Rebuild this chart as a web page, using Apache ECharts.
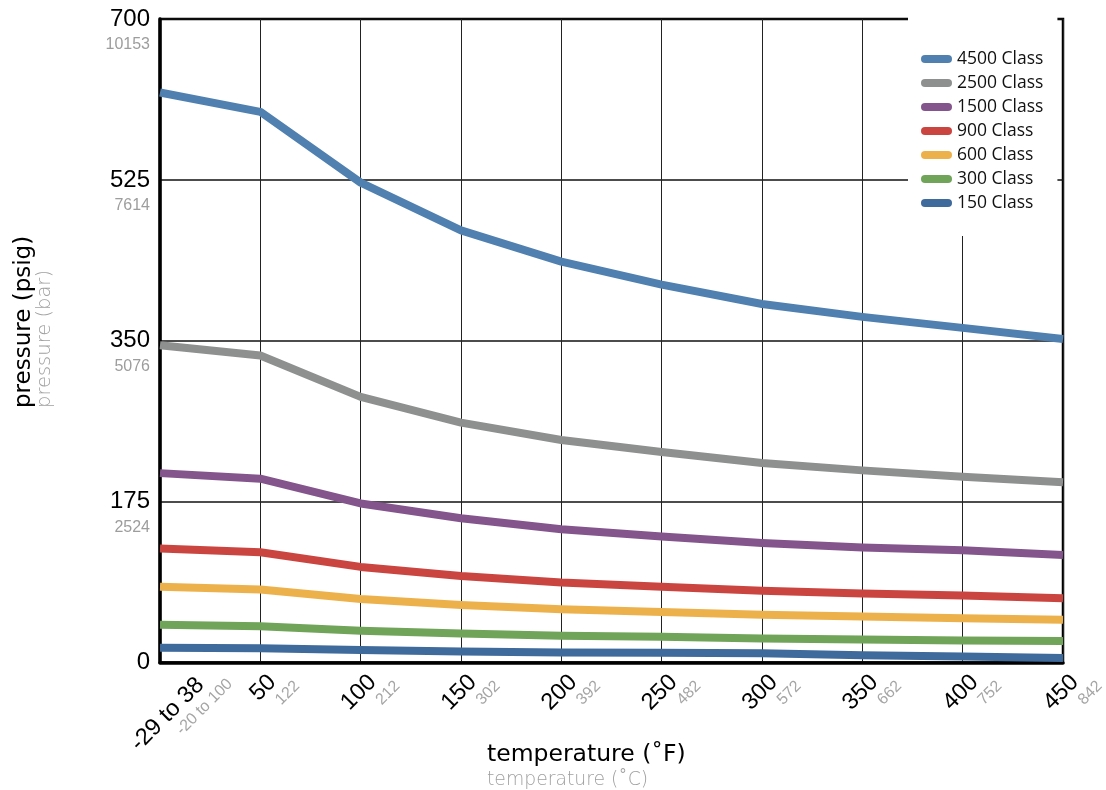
<!DOCTYPE html>
<html>
<head>
<meta charset="utf-8">
<script src="https://cdn.jsdelivr.net/npm/echarts@6/dist/echarts.min.js"></script>
<style>
html,body{margin:0;padding:0;background:#fff;}
#chart{width:1106px;height:790px;}
</style>
</head>
<body>
<div id="chart"></div>
<script>
// ---- data ----
const categories = ['-29 to 38', '50', '100', '150', '200', '250', '300', '350', '400', '450'];
const categoriesAlt = ['-20 to 100', '122', '212', '302', '392', '482', '572', '662', '752', '842'];
const yTicks = [0, 175, 350, 525, 700];
const yTicksAlt = ['', '2524', '5076', '7614', '10153'];
const seriesNames = ['4500 Class', '2500 Class', '1500 Class', '900 Class', '600 Class', '300 Class', '150 Class'];
const class4500 = [620, 599, 522, 470, 436, 411, 390, 376, 364, 352];
const class2500 = [345, 334, 289, 261, 242, 229, 217, 209, 202, 196];
const class1500 = [206, 200, 173, 157, 145, 137, 130, 125, 122, 117];
const class900 = [124, 120, 104, 94, 87, 82.5, 78, 75, 73, 70];
const class600 = [82.5, 79.5, 69, 62.5, 58, 55, 52, 50, 48, 46.5];
const class300 = [41, 39.5, 34.5, 31.5, 29, 28, 26, 25, 24, 23.5];
const class150 = [16, 15.5, 13.5, 12, 11, 10.5, 10, 8, 6.5, 5];
const seriesValues = [class4500, class2500, class1500, class900, class600, class300, class150];
const seriesColors = ['#5080b0', '#8e908f', '#84558c', '#cb4540', '#edb14c', '#6fa459', '#3e6a9c'];

const chart = echarts.init(document.getElementById('chart'), null, {renderer: 'canvas'});
const numFont = "'Liberation Sans', Arial, sans-serif";
const nameFont = "'DejaVu Sans', sans-serif";

const option = {
  animation: false,
  backgroundColor: '#fff',
  grid: {
    left: 160, right: 43, top: 19, bottom: 127.5,
    containLabel: false,
    outerBoundsMode: 'none',
    show: true, borderColor: '#000', borderWidth: 2.5, backgroundColor: 'transparent'
  },
  xAxis: {
    type: 'category',
    data: categories,
    boundaryGap: false,
    axisLine: {show: true, lineStyle: {color: '#000', width: 3.5}},
    axisTick: {show: false},
    splitLine: {show: true, lineStyle: {color: '#222', width: 1}},
    axisLabel: {
      interval: 0,
      rotate: 45,
      margin: -51,
      align: 'right',
      verticalAlign: 'top',
      hideOverlap: false,
      formatter: function (value, index) {
        if (index === 0) {
          return '{s1| }\n{a1|' + value + '}\n{b1|' + categoriesAlt[index] + '}';
        }
        return '{s| }\n{a|' + value + '}\n{b|' + categoriesAlt[index] + '}';
      },
      rich: {
        s: {fontSize: 1, lineHeight: 44},
        s1: {fontSize: 1, lineHeight: 66},
        a: {fontSize: 23.5, lineHeight: 24, color: '#000', fontFamily: numFont, padding: [0, 39, 0, 0], align: 'right'},
        b: {fontSize: 16, lineHeight: 18, color: '#a5a5a5', fontFamily: numFont, padding: [0, 25, 0, 0], align: 'right'},
        a1: {fontSize: 23.5, lineHeight: 24, color: '#000', fontFamily: numFont, padding: [0, 21, 0, 0], align: 'right'},
        b1: {fontSize: 16, lineHeight: 18, color: '#a5a5a5', fontFamily: numFont, padding: [0, 0, 0, 0], align: 'right'}
      }
    }
  },
  yAxis: {
    type: 'value',
    min: 0, max: 700, interval: 175,
    axisLine: {show: true, lineStyle: {color: '#000', width: 3.5}},
    axisTick: {show: false},
    splitLine: {show: true, lineStyle: {color: '#111', width: 1.5}},
    axisLabel: {
      margin: 10,
      align: 'right',
      formatter: function (value) {
        const i = yTicks.indexOf(value);
        if (i <= 0) return '{a|' + value + '}';
        return '{s| }\n{a|' + value + '}\n{b|' + yTicksAlt[i] + '}';
      },
      rich: {
        s: {fontSize: 1, lineHeight: 28},
        a: {fontSize: 24, lineHeight: 24, color: '#000', fontFamily: numFont, align: 'right'},
        b: {fontSize: 16, lineHeight: 28, color: '#9d9d9d', fontFamily: numFont, align: 'right'}
      }
    }
  },
  legend: {
    orient: 'vertical',
    left: 908, top: 15,
    padding: [35, 14, 24, 13],
    backgroundColor: '#fff',
    itemGap: 6,
    itemWidth: 31, itemHeight: 8,
    icon: 'path://M4,0 L27,0 A4,4 0 0 1 27,8 L4,8 A4,4 0 0 1 4,0 Z',
    itemStyle: {borderWidth: 0},
    textStyle: {fontSize: 17.5, lineHeight: 16, color: '#111', fontFamily: "'Open Sans', sans-serif"},
    data: seriesNames,
    selectedMode: false
  },
  graphic: [
    {type: 'text', x: 24, y: 408, rotation: Math.PI / 2,
     style: {text: 'pressure (psig)', fontSize: 23, fontFamily: nameFont, fill: '#000', align: 'left', verticalAlign: 'middle'}},
    {type: 'text', x: 45, y: 408, rotation: Math.PI / 2,
     style: {text: 'pressure (bar)', fontSize: 19.5, fontWeight: 200, fontFamily: nameFont, fill: '#a0a0a0', align: 'left', verticalAlign: 'middle'}},
    {type: 'text', x: 487, y: 755,
     style: {text: 'temperature (˚F)', fontSize: 23.5, fontFamily: nameFont, fill: '#000', align: 'left', verticalAlign: 'middle'}},
    {type: 'text', x: 487, y: 780,
     style: {text: 'temperature (˚C)', fontSize: 18.8, fontWeight: 200, fontFamily: nameFont, fill: '#a0a0a0', align: 'left', verticalAlign: 'middle'}}
  ],
  series: seriesNames.map(function (name, i) {
    return {
      name: name,
      type: 'line',
      data: seriesValues[i],
      symbol: 'none',
      showSymbol: false,
      color: seriesColors[i],
      lineStyle: {width: 8, color: seriesColors[i], join: 'round'},
      emphasis: {disabled: true},
      z: 2 + (seriesNames.length - i) * 0.01
    };
  })
};
chart.setOption(option);
</script>
</body>
</html>
